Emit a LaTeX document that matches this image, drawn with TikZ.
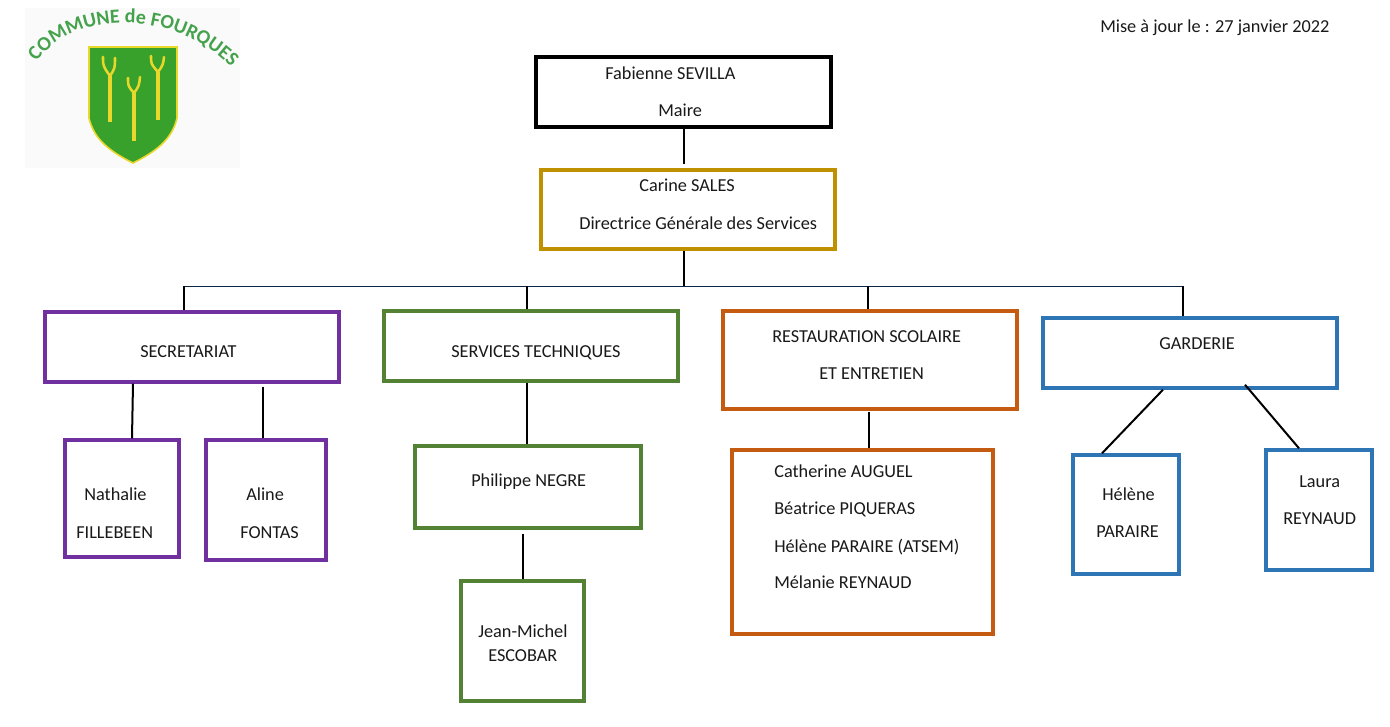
\documentclass[tikz,border=0pt]{standalone}
\usepackage{fontspec}
\setmainfont{Carlito}
\usetikzlibrary{calc, decorations.text}

\definecolor{maireblack}{HTML}{000000}
\definecolor{dgsgold}{HTML}{BF9000}
\definecolor{secpurple}{HTML}{7030A0}
\definecolor{techgreen}{HTML}{548235}
\definecolor{restorange}{HTML}{C55A11}
\definecolor{gardblue}{HTML}{2E75B6}
\definecolor{busnavy}{HTML}{0B2545}
\definecolor{logogreen}{HTML}{45A24C}
\definecolor{shieldgreen}{HTML}{38A12C}
\definecolor{shieldyellow}{HTML}{E9D82B}

\tikzset{
    orgbox/.style={draw, fill=white, inner sep=0pt, line width=2.55pt},
    boxsize/.style 2 args={minimum width=#1*0.75pt, minimum height=#2*0.75pt},
    lbl/.style={anchor=base west, inner sep=0pt, font=\fontsize{13.7}{16}\selectfont, text=black!90},
    link/.style={line width=1.5pt, black},
    stem/.style={line width=2.7pt, shieldyellow},
    prong/.style={line width=1.9pt, shieldyellow, line cap=round}
}

\begin{document}
\begin{tikzpicture}[x=0.75pt, y=-0.75pt]
    \useasboundingbox (0,0) rectangle (1390,726);

    % Logo
    \fill[black!2] (25,8) rectangle (240,168);
    \draw[fill=shieldgreen, draw=shieldyellow, line width=1.2pt]
        (89,47) -- (177,47) -- (177,118) .. controls (172,140) and (155,152) .. (133,163)
        .. controls (111,152) and (94,140) .. (89,118) -- cycle;
    \draw[stem] (110,122) -- (110,76);
    \draw[prong] (103,57) .. controls (103,66) .. (110,76) .. controls (115,68) .. (115,58);
    \draw[stem] (134,141) -- (134,93);
    \draw[prong] (128,78) .. controls (128,86) .. (134,93) .. controls (139,86) .. (140,77);
    \draw[stem] (158,120) -- (158,72);
    \draw[prong] (151,56) .. controls (151,64) .. (158,72) .. controls (163,65) .. (164,57);
    \path[decorate, decoration={text along path, text align=center,
        text={|\fontsize{15}{15}\selectfont\bfseries\color{logogreen}|COMMUNE de FOURQUES}}]
        (31,70) .. controls (65,8) and (180,5) .. (238,75);

    % Date
    \node[lbl] (maj) at (1100,32) {Mise à jour le : 27 janvier 2022};

    % Head of the chart
    \node[orgbox, draw=maireblack, boxsize={295}{70}, line width=3pt] (maire) at (683.5,92) {};
    \node[orgbox, draw=dgsgold, boxsize={294}{79}] (dgs) at (688,209.5) {};
    \node[lbl] (maireName) at (605,79) {Fabienne SEVILLA};
    \node[lbl] (maireRole) at (658,116) {Maire};
    \node[lbl] (dgsName) at (639,191) {Carine SALES};
    \node[lbl] (dgsRole) at (579,229) {Directrice Générale des Services};

    % Services
    \node[orgbox, draw=secpurple, boxsize={294}{70}] (secretariat) at (192,347) {};
    \node[orgbox, draw=techgreen, boxsize={294}{70}] (technique) at (531,346) {};
    \node[orgbox, draw=restorange, boxsize={294}{98}] (restauration) at (870,360) {};
    \node[orgbox, draw=gardblue, boxsize={294}{70}] (garderie) at (1190,353) {};
    \node[lbl] (secretariatName) at (140,357) {SECRETARIAT};
    \node[lbl] (techniqueName) at (451,357) {SERVICES TECHNIQUES};
    \node[lbl] (restaurationA) at (772,342) {RESTAURATION SCOLAIRE};
    \node[lbl] (restaurationB) at (819,379) {ET ENTRETIEN};
    \node[lbl] (garderieName) at (1159,349) {GARDERIE};

    % Secretariat staff
    \node[orgbox, draw=secpurple, boxsize={114}{117}] (nathalie) at (122,498.5) {};
    \node[orgbox, draw=secpurple, boxsize={120}{120}] (aline) at (266,500) {};
    \node[lbl] (nathalieA) at (84,500) {Nathalie};
    \node[lbl] (nathalieB) at (76,538) {FILLEBEEN};
    \node[lbl] (alineA) at (246,500) {Aline};
    \node[lbl] (alineB) at (240,538) {FONTAS};

    % Technical staff
    \node[orgbox, draw=techgreen, boxsize={226}{82}] (philippe) at (528,487) {};
    \node[orgbox, draw=techgreen, boxsize={123}{120}] (jeanmichel) at (522.5,641) {};
    \node[lbl] (philippeName) at (471,486) {Philippe NEGRE};
    \node[lbl] (jeanmichelA) at (478,637) {Jean-Michel};
    \node[lbl] (jeanmichelB) at (488,661) {ESCOBAR};

    % Canteen staff
    \node[orgbox, draw=restorange, boxsize={261}{184}] (cantine) at (862.5,542) {};
    \node[lbl] (cantineA) at (774,477) {Catherine AUGUEL};
    \node[lbl] (cantineB) at (774,514) {Béatrice PIQUERAS};
    \node[lbl] (cantineC) at (774,552) {Hélène PARAIRE (ATSEM)};
    \node[lbl] (cantineD) at (774,588) {Mélanie REYNAUD};

    % After-school staff
    \node[orgbox, draw=gardblue, boxsize={106}{119}] (helene) at (1126,514.5) {};
    \node[orgbox, draw=gardblue, boxsize={106}{120}] (laura) at (1319,510) {};
    \node[lbl] (heleneA) at (1102,500) {Hélène};
    \node[lbl] (heleneB) at (1096,537) {PARAIRE};
    \node[lbl] (lauraA) at (1299,487) {Laura};
    \node[lbl] (lauraB) at (1283,524) {REYNAUD};

    % Bus under the direction
    \coordinate (busTop) at ($(maire.south)+(0,157)$);
    \coordinate (busA) at (184,286);
    \coordinate (busB) at (527,286);
    \coordinate (busC) at (868,286);
    \coordinate (busD) at (1183,286);
    \draw[line width=0.75pt, busnavy] (busA) -- (busD);

    % Connectors
    \draw[link] (maire.south) -- ($(dgs.north)+(-4.5,-4)$);
    \draw[link] (busTop |- dgs.south) -- (busTop);
    \draw[link] (busA) -- (busA |- secretariat.north);
    \draw[link] (busB) -- (busB |- technique.north);
    \draw[link] (busC) -- (busC |- restauration.north);
    \draw[link] (busD) -- (busD |- garderie.north);
    \draw[link] ($(secretariat.south)+(-59,0)$) -- ($(nathalie.north)+(10,0)$);
    \draw[link] ($(secretariat.south)+(71,3)$) -- ($(aline.north)+(-3,0)$);
    \draw[link] (busB |- technique.south) -- (busB |- philippe.north);
    \draw[link] ($(philippe.south)+(-5.5,4)$) -- (jeanmichel.north);
    \draw[link] ($(restauration.south)+(-1,1)$) -- ($(cantine.north)+(6.5,0)$);
    \draw[link] ($(garderie.south)+(-27,0)$) -- ($(helene.north)+(-24,0)$);
    \draw[link] ($(garderie.south)+(55,-5)$) -- ($(laura.north)+(-20,0)$);
\end{tikzpicture}
\end{document}
